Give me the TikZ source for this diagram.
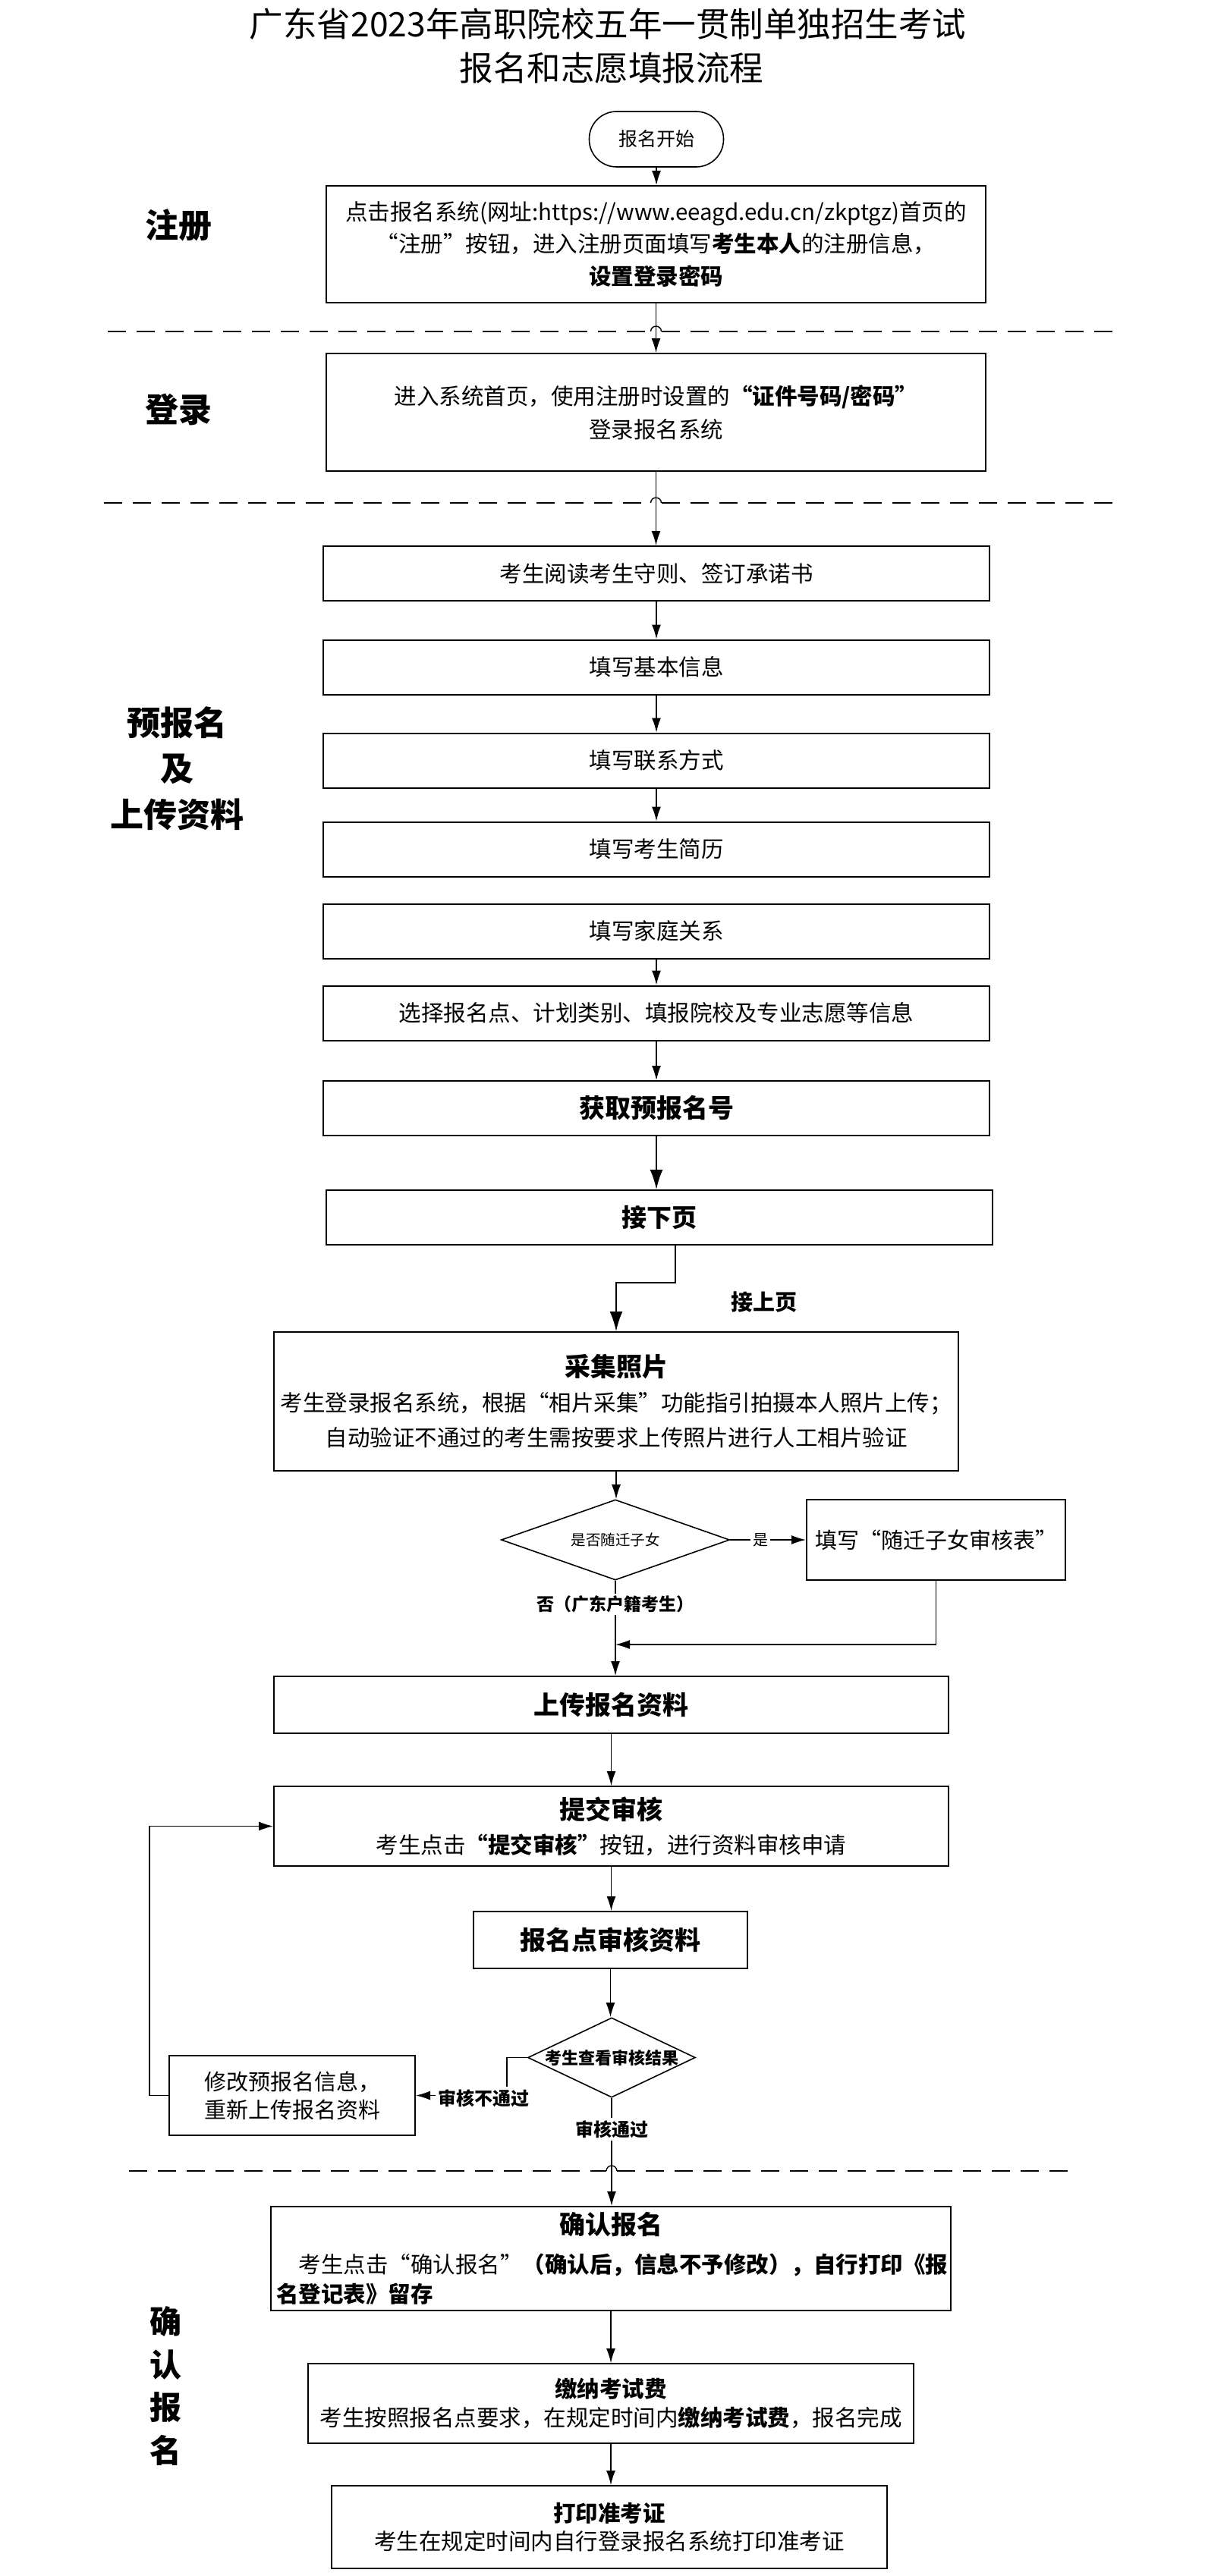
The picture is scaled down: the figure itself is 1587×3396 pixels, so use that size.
\documentclass[tikz,border=0pt]{standalone}
\usepackage{fontspec}
\setmainfont{Noto Sans CJK SC}
\usetikzlibrary{arrows.meta,shapes.geometric}
\newcommand\myfs[2]{\fontsize{#1pt}{#2pt}\selectfont}
\begin{document}
\begin{tikzpicture}[x=0.5pt,y=-0.5pt,
  box/.style={draw,line width=1pt,inner sep=2pt,align=center,font=\myfs{14.75}{21.5}},
  stepbox/.style={box,minimum width=439pt,minimum height=36pt},
  arr/.style={line width=0.7pt,-{Latex[length=9.5pt,width=6pt]}},
  bigarr/.style={line width=1pt,-{Latex[length=13pt,width=8.5pt]}},
  dline/.style={line width=1pt,dash pattern=on 12pt off 7pt},
  hop/.style={line width=0.7pt},
  side/.style={font=\myfs{22}{30.25}\bfseries,align=center},
  lbl/.style={fill=white,inner sep=1.5pt},
  dia/.style={draw,diamond,line width=0.8pt,inner sep=0pt}]
\useasboundingbox (0,0) rectangle (1587,3396);

% titles
\node[font=\myfs{22.25}{26}] (t1) at (801,32) {广东省2023年高职院校五年一贯制单独招生考试};
\node[font=\myfs{22.25}{26}] (t2) at (806,90) {报名和志愿填报流程};

% side labels
\node[side] (lab1) at (235,297) {注册};
\node[side] (lab2) at (235,540) {登录};
\node[side] (lab3) at (233,1013) {预报名\\及\\上传资料};
\node[side,font=\myfs{21}{28.2}\bfseries] (lab4) at (218,3145.5) {确\\认\\报\\名};

% dashed separators with line hops
\draw[dline] (142,437) -- (857.5,437);
\draw[hop] (857.5,437) arc[start angle=180,end angle=0,radius=3.5pt];
\draw[dline] (871.5,437) -- (1478,437);
\draw[dline] (137,663) -- (857.5,663);
\draw[hop] (857.5,663) arc[start angle=180,end angle=0,radius=3.5pt];
\draw[dline] (871.5,663) -- (1473,663);
\draw[dline] (170,2862) -- (799,2862);
\draw[hop] (799,2862) arc[start angle=180,end angle=0,radius=3.5pt];
\draw[dline] (813,2862) -- (1414,2862);

% nodes
\node[draw,line width=0.8pt,rounded corners=18pt,minimum width=88.5pt,minimum height=36.5pt,font=\myfs{12.5}{14}] (s) at (865,183.5) {报名开始};

\node[box,minimum width=434.5pt,minimum height=77pt,font=\myfs{14.75}{21.25}] (r) at (864.5,322)
 {点击报名系统(网址:https://www.eeagd.edu.cn/zkptgz)首页的\\“注册”按钮，进入注册页面填写\textbf{考生本人}的注册信息，\\\textbf{设置登录密码}};

\node[box,minimum width=434.5pt,minimum height=77.5pt,font=\myfs{14.75}{22}] (l) at (864.5,543.5)
 {进入系统首页，使用注册时设置的\textbf{“证件号码/密码”}\\登录报名系统};

\node[stepbox] (b1) at (865,756) {考生阅读考生守则、签订承诺书};
\node[stepbox] (b2) at (865,879.5) {填写基本信息};
\node[stepbox] (b3) at (865,1002.5) {填写联系方式};
\node[stepbox] (b4) at (865,1119.5) {填写考生简历};
\node[stepbox] (b5) at (865,1227.5) {填写家庭关系};
\node[stepbox] (b6) at (865,1335.5) {选择报名点、计划类别、填报院校及专业志愿等信息};
\node[stepbox,font=\myfs{17}{20}\bfseries] (b7) at (865,1461) {获取预报名号};
\node[stepbox,font=\myfs{16.5}{20}\bfseries] (b8) at (869,1605) {接下页};

\node[font=\myfs{14.5}{16}\bfseries] (jsy) at (1007,1716) {接上页};

\node[box,minimum width=451pt,minimum height=91.5pt,font=\myfs{14.75}{23}] (p) at (812,1847.5)
 {{\myfs{17}{23}\bfseries 采集照片}\\考生登录报名系统，根据“相片采集”功能指引拍摄本人照片上传；\\自动验证不通过的考生需按要求上传照片进行人工相片验证};

\node[dia,minimum width=150.5pt,minimum height=53pt,aspect=2.84,font=\myfs{9.75}{11}] (d1) at (811,2030) {是否随迁子女};
\node[box,minimum width=170.5pt,minimum height=53pt,font=\myfs{14.5}{18}] (sq) at (1233.5,2030) {填写“随迁子女审核表”};

\node[box,minimum width=444.5pt,minimum height=37.5pt,font=\myfs{17}{20}\bfseries] (up) at (805.5,2247.5) {上传报名资料};

\node[box,minimum width=444.5pt,minimum height=52.5pt,font=\myfs{14.75}{22.5}] (sub) at (805.5,2407.5)
 {{\myfs{17}{22.5}\bfseries 提交审核}\\考生点击\textbf{“提交审核”}按钮，进行资料审核申请};

\node[box,minimum width=180.5pt,minimum height=37.5pt,font=\myfs{17}{20}\bfseries] (aud) at (804.5,2557.5) {报名点审核资料};

\node[dia,minimum width=110pt,minimum height=52.5pt,aspect=2.1,font=\myfs{11}{12}\bfseries] (d2) at (806,2712.5) {考生查看审核结果};

\node[box,minimum width=162pt,minimum height=52.5pt,align=left,font=\myfs{14.5}{18.5}] (mod) at (385,2762.5)
 {修改预报名信息，\\重新上传报名资料};

\node[box,minimum width=448pt,minimum height=68.5pt,text width=441pt,inner sep=3.5pt,align=left,font=\myfs{14.75}{19.5}] (conf) at (805,2977.5)
 {\makebox[441pt]{\myfs{17}{19.5}\bfseries 确认报名}\\[6pt]\hspace*{14.75pt}考生点击“确认报名”\textbf{（确认后，信息不予修改），自行打印《报}\\\textbf{名登记表》留存}};

\node[box,minimum width=399pt,minimum height=52.5pt,font=\myfs{14.75}{19}] (pay) at (805,3168.5)
 {\textbf{缴纳考试费}\\考生按照报名点要求，在规定时间内\textbf{缴纳考试费}，报名完成};

\node[box,minimum width=366pt,minimum height=54.5pt,font=\myfs{14.75}{18.5}] (prt) at (803,3331.5)
 {\textbf{打印准考证}\\考生在规定时间内自行登录报名系统打印准考证};

% connectors
\draw[arr] (s.south) -- (s.south |- r.north);
\draw[arr] (r.south) -- (r.south |- l.north);
\draw[arr] (l.south) -- (l.south |- b1.north);
\foreach \a/\b in {b1/b2,b2/b3,b3/b4,b5/b6,b6/b7}
  \draw[arr] (\a.south) -- (\b.north);
\draw[bigarr] (b7.south) -- (b7.south |- b8.north);
\coordinate (k2) at (p.north |- 0,1691);
\draw[bigarr] ([xshift=10.5pt]b8.south) |- (k2) -- (p.north);

\draw[arr] (p.south) -- (p.south |- d1.north);
\draw[arr] (d1.east) -- node[lbl,pos=0.4,font=\myfs{10}{11}] (yes) {是} (sq.west);
\coordinate (mg) at (d1.south |- 0,2168);
\draw[arr] (sq.south) |- (mg);
\draw[arr] (d1.south) -- node[lbl,pos=0.25,font=\myfs{11.5}{13}\bfseries] (no) {否（广东户籍考生）} (d1.south |- up.north);

\draw[arr] (up.south) -- (up.south |- sub.north);
\draw[arr] (sub.south) -- (sub.south |- aud.north);
\draw[arr] (aud.south) -- (aud.south |- d2.north);

\draw[arr] (d2.west) -- (d2.west -| 668,0) |- (mod.east);
\node[lbl,font=\myfs{12}{13}\bfseries] (np) at (637,2766) {审核不通过};
\draw[arr] (mod.west) -- (mod.west -| 197,0) |- (sub.west);

\draw[arr] (d2.south) -- node[lbl,pos=0.29,font=\myfs{12}{13}\bfseries] (pass) {审核通过} (d2.south |- conf.north);
\draw[arr] (conf.south) -- (conf.south |- pay.north);
\draw[arr] (pay.south) -- (pay.south |- prt.north);
\end{tikzpicture}
\end{document}
